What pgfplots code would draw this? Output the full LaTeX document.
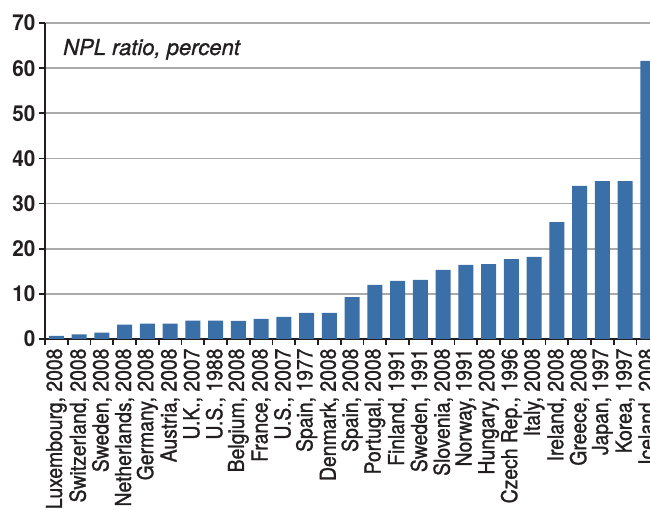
\documentclass[border=0pt]{standalone}
\usepackage{pgfplots}
\pgfplotsset{compat=1.18}
\usepackage{fontspec}
\setmainfont{TeX Gyre Heros}
\newfontfamily\condfont{TeX Gyre Heros}[FakeStretch=0.88, FakeBold=1.2]
\newfontfamily\tickfont{TeX Gyre Heros}[FakeStretch=0.94]
\newfontfamily\titlefont{TeX Gyre Heros}[FakeBold=1.0]
\definecolor{barblue}{RGB}{59,111,167}
\definecolor{txt}{RGB}{35,31,32}
\definecolor{gridgray}{RGB}{170,170,170}
\begin{document}
\begin{tikzpicture}
\useasboundingbox (-45pt,-171pt) rectangle (605pt,339pt);
\clip (-45pt,-171pt) rectangle (605pt,339pt);
\begin{axis}[
  scale only axis, width=614.25pt, height=316pt,
  xmin=-0.5, xmax=26.5, ymin=0, ymax=70,
  axis lines=left,
  axis line style={-, draw=txt, line width=1.6pt},
  ybar, bar width=15pt,
  ytick={0,10,...,70},
  ymajorgrids, grid style={draw=gridgray, line width=1.6pt},
  xtick={-0.5,0.5,...,26.5},
  x tick label as interval,
  xticklabels={{Luxembourg, 2008},{Switzerland, 2008},{Sweden, 2008},{Netherlands, 2008},{Germany, 2008},{Austria, 2008},{U.K., 2007},{U.S., 1988},{Belgium, 2008},{France, 2008},{U.S., 2007},{Spain, 1977},{Denmark, 2008},{Spain, 2008},{Portugal, 2008},{Finland, 1991},{Sweden, 1991},{Slovenia, 2008},{Norway, 1991},{Hungary, 2008},{Czech Rep., 1996},{Italy, 2008},{Ireland, 2008},{Greece, 2008},{Japan, 1997},{Korea, 1997},{Iceland, 2008}},
  x tick label style={rotate=90, anchor=east, font=\condfont\fontsize{22}{22}\selectfont, text=txt},
  y tick label style={font=\tickfont\bfseries\fontsize{22}{22}\selectfont, text=txt},
  /pgf/number format/assume math mode=true,
  tick align=outside, major tick length=6pt,
  tick style={draw=txt, line width=1.6pt},
]
\addplot[fill=barblue, draw=none] coordinates {
(0,0.7) (1,1.0) (2,1.4) (3,3.2) (4,3.4) (5,3.4) (6,4.05) (7,4.05) (8,4.0)
(9,4.45) (10,4.9) (11,5.8) (12,5.8) (13,9.3) (14,12.0) (15,12.85) (16,13.07)
(17,15.3) (18,16.4) (19,16.6) (20,17.7) (21,18.2) (22,25.9) (23,33.9)
(24,35.0) (25,35.0) (26,61.6)};
\end{axis}
\node[anchor=base west, inner sep=0pt, text=txt, font=\titlefont\fontsize{22}{22}\selectfont\itshape] at (18pt,284pt) {NPL ratio, percent};
\end{tikzpicture}
\end{document}
